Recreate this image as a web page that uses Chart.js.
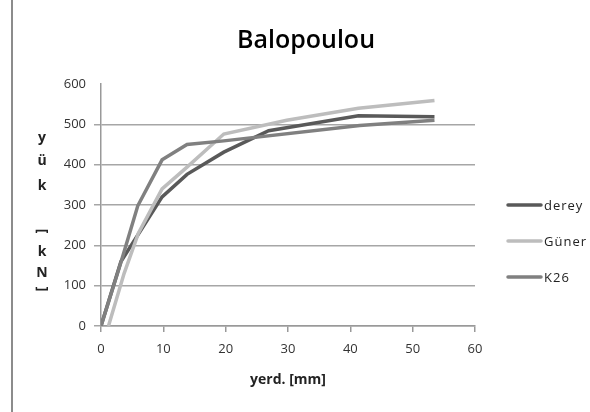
<!DOCTYPE html>
<html>
<head>
<meta charset="utf-8">
<script src="https://cdn.jsdelivr.net/npm/chart.js@4/dist/chart.umd.min.js"></script>
<style>
  html, body { margin: 0; padding: 0; background: #fff; }
  #wrap { position: relative; width: 590px; height: 412px; }
  #edge { position: absolute; left: 11px; top: 0; width: 2px; height: 412px; background: #8c8c8c; }
</style>
</head>
<body>
<div id="wrap">
  <canvas id="chart" width="590" height="412"></canvas>
  <div id="edge"></div>
</div>
<script>
// values: displacement [mm] vs load [kN]
const seriesNames = ["derey", "Güner", "K26"];
const seriesColors = ["#595959", "#bdbdbd", "#808080"];

const dereyX = [0, 3.2, 9.8, 13.8, 19.7, 26.9, 41.3, 53.5];
const dereyY = [0, 160, 320, 376, 431, 484, 521, 519];

const gunerX = [1.2, 3.7, 6.0, 9.8, 13.8, 19.7, 29.8, 41.3, 53.5];
const gunerY = [0, 130, 230, 340, 394, 476, 510, 540, 559];

const k26X = [0, 3.2, 5.9, 9.8, 13.8, 19.7, 41.5, 53.5];
const k26Y = [0, 158, 298, 412, 450, 459, 497, 510];

const xTicks = [0, 10, 20, 30, 40, 50, 60];
const yTicks = [0, 100, 200, 300, 400, 500, 600];

const toPoints = (xs, ys) => xs.map((x, i) => ({ x, y: ys[i] }));

const tickFont = { family: "'Open Sans', sans-serif", size: 13 };

// chart title sits over the whole picture, not only the plot
const titlePlugin = {
  id: "mainTitle",
  afterDraw(chart) {
    const ctx = chart.ctx;
    ctx.save();
    ctx.font = "600 25px 'Open Sans', sans-serif";
    ctx.fillStyle = "#000";
    ctx.textAlign = "center";
    ctx.textBaseline = "middle";
    ctx.fillText("Balopoulou", 306, 41);
    ctx.restore();
  },
};

// stacked vertical axis title, brackets turned like the original
const yTitlePlugin = {
  id: "yTitle",
  afterDraw(chart) {
    const ctx = chart.ctx;
    const chars = ["y", "ü", "k", "[", "k", "N", "]"];
    const ys = [138, 161, 186, 231, 252, 273, 289];
    ctx.save();
    ctx.font = "bold 14px 'Open Sans', sans-serif";
    ctx.fillStyle = "#222";
    ctx.textAlign = "center";
    ctx.textBaseline = "middle";
    chars.forEach((ch, i) => {
      ctx.save();
      ctx.translate(42, ys[i]);
      if (ch === "[" || ch === "]") ctx.rotate(Math.PI / 2);
      ctx.fillText(ch, 0, 0);
      ctx.restore();
    });
    ctx.restore();
  },
};

const legendPlugin = {
  id: "sideLegend",
  afterDraw(chart) {
    const ctx = chart.ctx;
    ctx.save();
    ctx.font = "13px 'Open Sans', sans-serif";
    ctx.letterSpacing = "1px";
    ctx.textBaseline = "middle";
    ctx.fillStyle = "#222";
    chart.data.datasets.forEach((ds, i) => {
      const y = 205 + i * 36;
      ctx.strokeStyle = ds.borderColor;
      ctx.lineWidth = 3.5;
      ctx.lineCap = "round";
      ctx.beginPath();
      ctx.moveTo(508, y);
      ctx.lineTo(541, y);
      ctx.stroke();
      ctx.fillText(ds.label, 544, y + 1);
    });
    ctx.restore();
  },
};

new Chart(document.getElementById("chart"), {
  type: "line",
  data: {
    datasets: [
      { label: seriesNames[0], data: toPoints(dereyX, dereyY), borderColor: seriesColors[0], order: 2 },
      { label: seriesNames[1], data: toPoints(gunerX, gunerY), borderColor: seriesColors[1], order: 1 },
      { label: seriesNames[2], data: toPoints(k26X, k26Y), borderColor: seriesColors[2], order: 0 },
    ].map(ds => ({ ...ds, borderWidth: 3.5, pointRadius: 0, tension: 0, fill: false })),
  },
  options: {
    responsive: false,
    animation: false,
    layout: { padding: { left: 0, right: 115, top: 84, bottom: 23.6 } },
    plugins: {
      legend: { display: false },
      tooltip: { enabled: false },
      title: { display: false },
    },
    scales: {
      x: {
        type: "linear",
        min: 0,
        max: 60,
        afterBuildTicks: scale => { scale.ticks = xTicks.map(v => ({ value: v })); },
        ticks: { font: tickFont, color: "#333", padding: 9 },
        grid: { drawOnChartArea: false, drawTicks: true, tickLength: 6, color: "#999", lineWidth: 1.5 },
        border: { color: "#999", width: 1.5 },
        title: {
          display: true,
          text: "yerd. [mm]",
          color: "#222",
          font: { family: "'Open Sans', sans-serif", size: 14, weight: "bold", lineHeight: 1.2 },
          padding: { top: 6, bottom: 0 },
        },
      },
      y: {
        min: 0,
        max: 600,
        afterBuildTicks: scale => { scale.ticks = yTicks.map(v => ({ value: v })); },
        afterFit: scale => { scale.width = 101; },
        ticks: { font: tickFont, color: "#333", padding: 8 },
        grid: {
          tickLength: 7,
          lineWidth: 1.5,
          color: ctx => (ctx.tick && ctx.tick.value === 600 ? "rgba(0,0,0,0)" : "#a6a6a6"),
        },
        border: { color: "#999", width: 1.5 },
      },
    },
  },
  plugins: [titlePlugin, yTitlePlugin, legendPlugin],
});
</script>
</body>
</html>
